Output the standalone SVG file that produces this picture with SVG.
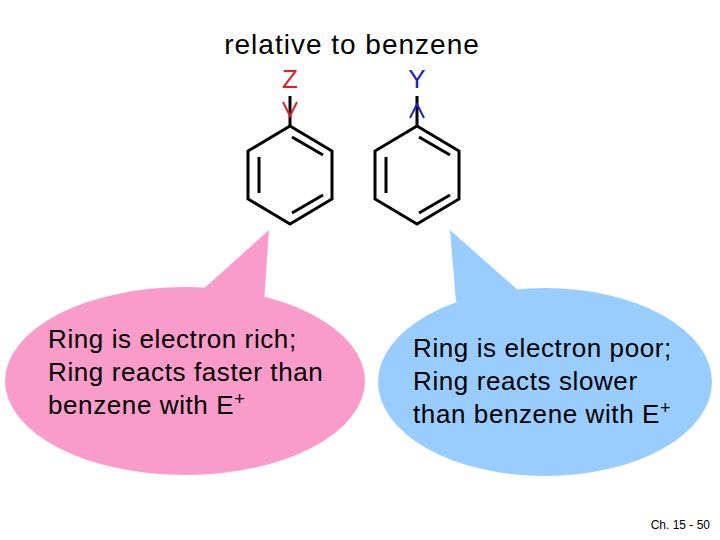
<svg xmlns="http://www.w3.org/2000/svg" width="720" height="540" viewBox="0 0 720 540">
<style>
.t{font-family:"Liberation Sans",Arial,sans-serif;fill:#000}
.b{stroke:#000;stroke-width:3;fill:none;stroke-linejoin:miter}
.m{font-size:26px;letter-spacing:0.6px}
</style>
<rect width="720" height="540" fill="#fff"/>
<text class="t" x="352" y="54" font-size="28" letter-spacing="1" text-anchor="middle">relative to benzene</text>
<g id="ring1">
<polygon class="b" points="290,126 332,151 332,199 290,224 248,199 248,151"/>
<path class="b" d="M292,137 L323,155 M259,157 L259,193 M292,213 L323,195 M290,126 V96"/>
<text x="290" y="88" font-family="Liberation Sans,Arial,sans-serif" font-size="26" fill="#d22" text-anchor="middle">Z</text>
<path d="M283,102 L290,116 L297,102" stroke="#d22" stroke-width="2" fill="none"/>
</g>
<g id="ring2">
<polygon class="b" points="417,126 459,151 459,199 417,224 375,199 375,151"/>
<path class="b" d="M419,137 L450,155 M386,157 L386,193 M419,213 L450,195 M417,126 V96"/>
<text x="417" y="88" font-family="Liberation Sans,Arial,sans-serif" font-size="26" fill="#22b" text-anchor="middle">Y</text>
<path d="M410,118 L417,104 L424,118" stroke="#22b" stroke-width="2" fill="none"/>
</g>
<g id="bubble1">
<polygon points="200,292 269,230 264,302" fill="#F99CC9"/>
<ellipse cx="185" cy="381" rx="180" ry="94" fill="#F99CC9"/>
<text class="t m"><tspan x="48" y="348">Ring is electron rich;</tspan><tspan x="48" y="381">Ring reacts faster than</tspan><tspan x="48" y="414">benzene with E<tspan dy="-9" font-size="18">+</tspan></tspan></text>
</g>
<g id="bubble2">
<polygon points="520,292 450,230 456,302" fill="#99CCFF"/>
<ellipse cx="545" cy="382" rx="167" ry="94" fill="#99CCFF"/>
<text class="t m"><tspan x="413" y="357">Ring is electron poor;</tspan><tspan x="413" y="390">Ring reacts slower</tspan><tspan x="413" y="423">than benzene with E<tspan dy="-9" font-size="18">+</tspan></tspan></text>
</g>
<text class="t" x="710" y="529" font-size="12" text-anchor="end">Ch. 15 - 50</text>
</svg>
